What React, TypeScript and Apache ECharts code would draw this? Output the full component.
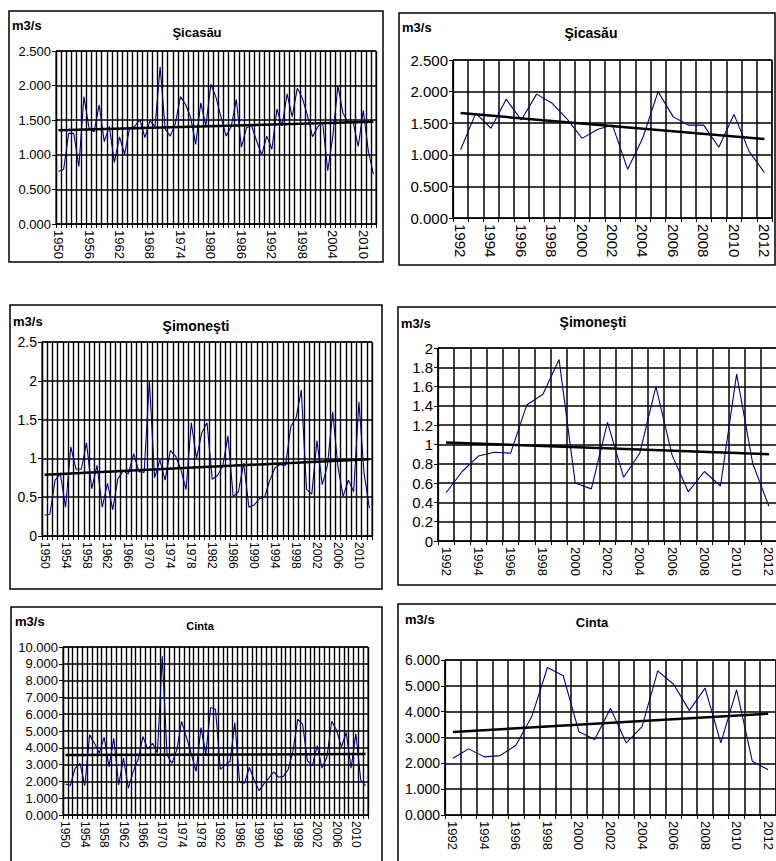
import React, { useEffect, useRef } from "react";
import * as echarts from "echarts";

// Years
const yearsAll: string[] = Array.from({ length: 63 }, (_, i) => String(1950 + i));
const yearsRecent: string[] = yearsAll.slice(42);

// Şicasău (m3/s), 1950–2012
const sicasau: number[] = [
  0.76, 0.79, 1.31, 1.31, 0.83, 1.84, 1.39, 1.33, 1.72, 1.19,
  1.41, 0.89, 1.26, 1.01, 1.39, 1.41, 1.51, 1.25, 1.49, 1.41,
  2.27, 1.37, 1.27, 1.45, 1.84, 1.73, 1.54, 1.15, 1.75, 1.42,
  2.02, 1.83, 1.54, 1.27, 1.41, 1.80, 1.11, 1.39, 1.42, 1.20,
  1.00, 1.27,
  1.08, 1.66, 1.42, 1.88, 1.55, 1.96, 1.82, 1.57, 1.26, 1.40,
  1.47, 0.77, 1.27, 2.00, 1.60, 1.47, 1.47, 1.12, 1.64, 1.05, 0.72,
];

// Şimoneşti (m3/s), 1950–2012
const simonesti: number[] = [
  0.27, 0.28, 0.72, 0.80, 0.37, 1.15, 0.86, 0.86, 1.20, 0.61,
  0.91, 0.37, 0.68, 0.34, 0.74, 0.84, 0.80, 1.06, 0.83, 0.82,
  2.00, 0.75, 0.98, 0.72, 1.10, 1.03, 0.86, 0.60, 1.46, 1.00,
  1.33, 1.46, 0.73, 0.78, 0.90, 1.29, 0.51, 0.57, 0.94, 0.37,
  0.40, 0.48,
  0.50, 0.72, 0.88, 0.92, 0.91, 1.41, 1.52, 1.88, 0.60, 0.54,
  1.23, 0.66, 0.91, 1.60, 0.89, 0.51, 0.72, 0.57, 1.73, 0.80, 0.36,
];

// Cinta (m3/s), 1950–2012
const cinta: number[] = [
  1.85, 1.75, 2.78, 3.08, 1.75, 4.77, 4.27, 3.68, 4.63, 2.88,
  4.57, 1.79, 3.38, 1.60, 2.58, 3.30, 4.67, 3.92, 4.27, 3.71,
  9.45, 3.58, 3.08, 3.88, 5.57, 4.63, 3.64, 2.60, 5.20, 3.64,
  6.40, 6.30, 2.72, 2.98, 3.18, 5.50, 1.93, 1.89, 2.84, 2.09,
  1.45, 1.85,
  2.20, 2.56, 2.25, 2.30, 2.70, 3.80, 5.71, 5.39, 3.22, 2.92,
  4.13, 2.79, 3.42, 5.58, 5.06, 4.05, 4.91, 2.79, 4.84, 2.08, 1.75,
];

// Linear trend line end values (first year, last year)
const sicasauTrendAll: number[] = [1.355, 1.476];
const sicasauTrendRecent: number[] = [1.66, 1.25];
const simonestiTrendAll: number[] = [0.79, 0.99];
const simonestiTrendRecent: number[] = [1.02, 0.9];
const cintaTrendAll: number[] = [3.57, 3.63];
const cintaTrendRecent: number[] = [3.21, 3.92];

const FONT = "'Liberation Sans', Arial, Helvetica, sans-serif";

type Panel = {
  title: string;
  cats: string[];
  values: number[];
  trend: number[];
  max: number;
  interval: number;
  fmt: (v: number) => string;
  labelEvery: number;
  grid: { left: number; top: number; width: number; height: number };
  box: { x: number; y: number; w: number; h: number };
  unitPos: [number, number];
  titlePos: [number, number];
  titleSize: number;
  ySize: number;
  xSize: number;
  gridWidth: number;
};

const fmt3 = (v: number) => v.toFixed(3);
const fmtPlain = (v: number) => String(Math.round(v * 10) / 10);

const panels: Panel[] = [
  {
    title: "Şicasău", cats: yearsAll, values: sicasau, trend: sicasauTrendAll,
    max: 2.5, interval: 0.5, fmt: fmt3, labelEvery: 5,
    grid: { left: 56, top: 51, width: 320, height: 173 },
    box: { x: 9, y: 11, w: 374, h: 251 },
    unitPos: [12, 25], titlePos: [197, 32], titleSize: 13, ySize: 13, xSize: 13, gridWidth: 1.4,
  },
  {
    title: "Şicasău", cats: yearsRecent, values: sicasau.slice(42), trend: sicasauTrendRecent,
    max: 2.5, interval: 0.5, fmt: fmt3, labelEvery: 1,
    grid: { left: 453, top: 60, width: 319, height: 158 },
    box: { x: 399, y: 13, w: 376, h: 252 },
    unitPos: [402, 27], titlePos: [591, 33], titleSize: 14, ySize: 15, xSize: 15, gridWidth: 1.5,
  },
  {
    title: "Şimoneşti", cats: yearsAll, values: simonesti, trend: simonestiTrendAll,
    max: 2.5, interval: 0.5, fmt: fmtPlain, labelEvery: 3,
    grid: { left: 42, top: 342, width: 330, height: 194 },
    box: { x: 10, y: 305, w: 372, h: 284 },
    unitPos: [13, 321], titlePos: [196, 326], titleSize: 14, ySize: 14, xSize: 12, gridWidth: 1.4,
  },
  {
    title: "Şimoneşti", cats: yearsRecent, values: simonesti.slice(42), trend: simonestiTrendRecent,
    max: 2, interval: 0.2, fmt: fmtPlain, labelEvery: 1,
    grid: { left: 438, top: 348, width: 339, height: 193 },
    box: { x: 398, y: 307, w: 390, h: 278 },
    unitPos: [401, 323], titlePos: [593, 322], titleSize: 14, ySize: 15, xSize: 13, gridWidth: 1.5,
  },
  {
    title: "Cinta", cats: yearsAll, values: cinta, trend: cintaTrendAll,
    max: 10, interval: 1, fmt: fmt3, labelEvery: 3,
    grid: { left: 63, top: 647, width: 305, height: 168 },
    box: { x: 11, y: 607, w: 371, h: 270 },
    unitPos: [15, 621], titlePos: [200, 626], titleSize: 11, ySize: 13, xSize: 12, gridWidth: 1.4,
  },
  {
    title: "Cinta", cats: yearsRecent, values: cinta.slice(42), trend: cintaTrendRecent,
    max: 6, interval: 1, fmt: fmt3, labelEvery: 1,
    grid: { left: 445, top: 660, width: 331, height: 155 },
    box: { x: 398, y: 604, w: 390, h: 270 },
    unitPos: [405, 619], titlePos: [592, 622], titleSize: 13, ySize: 14, xSize: 13, gridWidth: 1.5,
  },
];

export default function App() {
  const ref = useRef<HTMLDivElement | null>(null);

  useEffect(() => {
    if (!ref.current) return;
    const chart = echarts.init(ref.current, undefined, { renderer: "svg" });

    const grids = panels.map((p) => ({
      left: p.grid.left,
      top: p.grid.top,
      width: p.grid.width,
      height: p.grid.height,
      show: true,
      borderColor: "#000",
      borderWidth: 1,
      backgroundColor: "#fff",
      containLabel: false,
      outerBoundsMode: "none",
    }));

    const xAxes = panels.map((p, i) => ({
      type: "category",
      gridIndex: i,
      data: p.cats,
      boundaryGap: true,
      axisLine: { show: true, lineStyle: { color: "#000", width: 1.2 } },
      axisTick: { show: true, interval: 0, length: 4, inside: false, lineStyle: { color: "#000", width: 1 } },
      axisLabel: {
        interval: p.labelEvery,
        rotate: -90,
        color: "#000",
        fontSize: p.xSize,
        fontFamily: FONT,
        margin: 6,
        hideOverlap: false,
      },
      splitLine: { show: true, interval: 0, lineStyle: { color: "#000", width: p.gridWidth } },
    }));

    const yAxes = panels.map((p, i) => ({
      type: "value",
      gridIndex: i,
      min: 0,
      max: p.max,
      interval: p.interval,
      axisLine: { show: true, lineStyle: { color: "#000", width: 1.2 } },
      axisTick: { show: true, length: 4, lineStyle: { color: "#000" } },
      axisLabel: {
        formatter: p.fmt,
        color: "#000",
        fontSize: p.ySize,
        fontFamily: FONT,
        margin: 5,
      },
      splitLine: { show: true, lineStyle: { color: "#000", width: 1.5 } },
    }));

    const series: any[] = [];
    panels.forEach((p, i) => {
      series.push({
        type: "line",
        xAxisIndex: i,
        yAxisIndex: i,
        data: p.values,
        symbol: "none",
        lineStyle: { color: "#000080", width: 1.1 },
        z: 3,
      });
      series.push({
        type: "line",
        xAxisIndex: i,
        yAxisIndex: i,
        data: [
          [p.cats[0], p.trend[0]],
          [p.cats[p.cats.length - 1], p.trend[1]],
        ],
        symbol: "none",
        lineStyle: { color: "#000", width: 2.5 },
        z: 4,
      });
    });

    const graphics: any[] = [];
    panels.forEach((p) => {
      graphics.push({
        type: "rect",
        shape: { x: p.box.x, y: p.box.y, width: p.box.w, height: p.box.h },
        style: { fill: "none", stroke: "#000", lineWidth: 1.5 },
        z: -10,
        silent: true,
      });
      graphics.push({
        type: "text",
        x: p.unitPos[0],
        y: p.unitPos[1],
        style: {
          text: "m3/s",
          fill: "#000",
          font: `bold 13px ${FONT}`,
          textAlign: "left",
          textVerticalAlign: "middle",
        },
      });
      graphics.push({
        type: "text",
        x: p.titlePos[0],
        y: p.titlePos[1],
        style: {
          text: p.title,
          fill: "#000",
          font: `bold ${p.titleSize}px ${FONT}`,
          textAlign: "center",
          textVerticalAlign: "middle",
        },
      });
    });

    chart.setOption({
      animation: false,
      backgroundColor: "#fff",
      grid: grids,
      xAxis: xAxes,
      yAxis: yAxes,
      series,
      graphic: graphics,
    });

    return () => chart.dispose();
  }, []);

  return (
    <div
      ref={ref}
      style={{ position: "absolute", left: 0, top: 0, width: 776, height: 861, background: "#fff" }}
    />
  );
}
